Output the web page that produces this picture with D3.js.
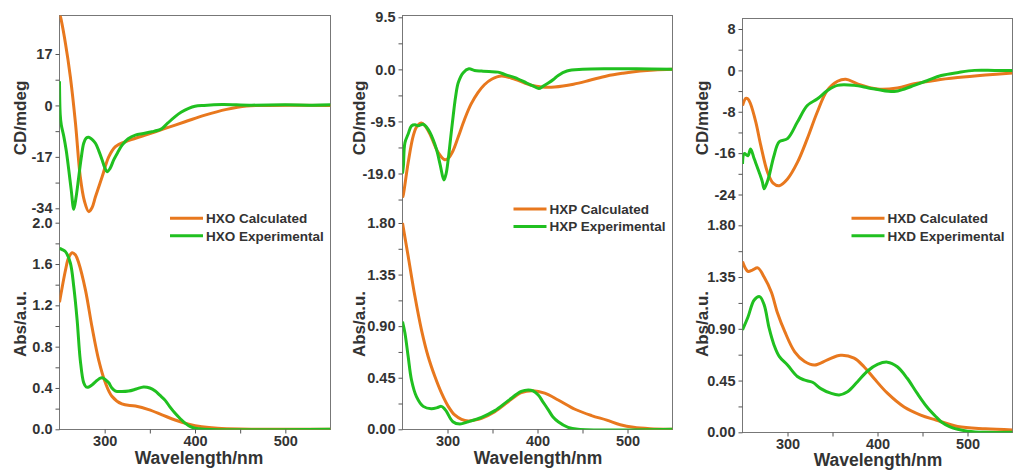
<!DOCTYPE html>
<html>
<head>
<meta charset="utf-8">
<script src="https://cdn.jsdelivr.net/npm/d3@7"></script>
<style>
  body { margin: 0; background: #fff; }
  text { font-family: "Liberation Sans", Arial, sans-serif; font-weight: bold; fill: #333; }
</style>
</head>
<body>
<svg id="chart" width="1015" height="470"></svg>
<script>
/* ---- data: [wavelength (nm), value] ---- */
var WL_DOMAIN = [250, 550];
var WL_TICKS = [300, 400, 500];
var WL_MINOR = [350, 450];

// HXO
var HXO_CD_TICKS = [-34, -17, 0, 17];
var HXO_CD_MINOR = [-25.5, -8.5, 8.5];
var HXO_ABS_TICKS = [0, 0.4, 0.8, 1.2, 1.6, 2.0];
var HXO_ABS_MINOR = [0.2, 0.6, 1.0, 1.4, 1.8];
var HXO_CD_CALC = [[250, 30], [251, 29.3], [256.6, 20.5], [262, 9.5], [267.7, -5.9], [273, -23.6], [277.5, -31.5],
  [282.4, -35.1], [286, -33.8], [289.8, -30.2], [297.2, -23.6], [304.5, -17], [311.9, -13.6], [323, -12],
  [345, -9.8], [367, -7.6], [389, -5.4], [411, -3.2], [435, -1.3], [457, -0.2], [480, 0], [550, 0]];
var HXO_CD_EXP = [[250, 8], [250.8, -3], [252, -6.5], [254.8, -10.3], [257.5, -15], [260.3, -21.4], [263, -28],
  [265.8, -34.3], [268.5, -30], [271.3, -23.6], [274, -17.5], [276.8, -12.5], [279.5, -10.8], [282.4, -10.5],
  [286, -11.2], [289.8, -12.5], [293.5, -15], [297.2, -18], [300, -20.5], [302.7, -21.9], [306, -20.8],
  [310, -18], [314.5, -15.5], [319.3, -13.1], [326, -11], [334, -9.8], [343, -9.3], [352, -8.7], [358, -8.3],
  [363.5, -7.6], [370, -5.8], [378, -3.7], [385, -2.2], [393, -1], [400, -0.3], [410, 0], [430, 0.3],
  [460, 0.1], [500, 0.2], [530, 0.1], [550, 0.2]];
var HXO_ABS_CALC = [[250, 1.23], [256.6, 1.54], [260, 1.66], [264, 1.71], [267.5, 1.69], [271.3, 1.61],
  [278.7, 1.35], [286, 0.99], [293.4, 0.67], [300.8, 0.45], [308, 0.32], [319, 0.245], [334, 0.225],
  [348.7, 0.19], [363.5, 0.14], [378, 0.09], [393, 0.05], [407.5, 0.025], [425, 0.01], [450, 0.003], [550, 0]];
var HXO_ABS_EXP = [[250, 1.75], [253, 1.74], [256.6, 1.72], [262, 1.61], [265.8, 1.38], [269.5, 1.06],
  [273, 0.67], [276.8, 0.45], [279.5, 0.41], [282.4, 0.41], [286, 0.43], [289.8, 0.46], [294, 0.49],
  [297.2, 0.5], [300.8, 0.48], [304.5, 0.45], [308, 0.4], [312, 0.37], [319, 0.365], [326.6, 0.37],
  [335, 0.39], [343, 0.41], [350, 0.4], [356, 0.37], [361, 0.33], [367, 0.28], [372, 0.22], [378, 0.155],
  [384, 0.1], [389, 0.06], [395, 0.025], [400, 0.01], [410, 0], [550, 0]];

// HXP
var HXP_CD_TICKS = [-19, -9.5, 0, 9.5];
var HXP_CD_MINOR = [-23.75, -14.25, -4.75, 4.75];
var HXP_ABS_TICKS = [0, 0.45, 0.9, 1.35, 1.8];
var HXP_ABS_MINOR = [0.225, 0.675, 1.125, 1.575];
var HXP_CD_CALC = [[250, -23.4], [251, -22.8], [256.3, -17], [262, -12.1], [266, -10.4], [271, -9.8],
  [275, -10.3], [280.5, -11.8], [289.7, -15.2], [297, -16.5], [301, -16.2], [306, -14.9], [312, -12.3],
  [319, -9.1], [326, -6.4], [334, -4.2], [341, -2.8], [349, -1.8], [360, -1.2], [375, -1.8], [393, -2.9],
  [405, -3.2], [419, -3.2], [440, -2.7], [458, -2], [477, -1.2], [495, -0.7], [514, -0.3], [530, -0.1], [550, 0]];
var HXP_CD_EXP = [[250, -19], [251, -17.6], [252.7, -13.4], [256.3, -11.8], [260, -10.3], [264, -10.1],
  [267.4, -10.3], [273, -10], [277, -10.6], [280.5, -11.5], [284, -12.8], [287.8, -14.6], [292, -17.5],
  [296, -20.2], [298.5, -19], [300.8, -16.4], [303.5, -12.5], [306.3, -8.5], [309, -5], [312, -2.4],
  [317.5, -0.6], [323.8, 0.1], [330, -0.2], [337.8, -0.3], [346, -0.4], [356, -0.5], [365, -1], [375, -1.5],
  [388, -2.5], [396, -3.1], [401.5, -3.5], [406, -3.1], [412, -2.5], [418, -1.8], [423, -1.1], [432.7, -0.3],
  [450, 0], [480, 0.1], [510, 0.1], [550, 0]];
var HXP_ABS_CALC = [[250, 1.8], [256.3, 1.51], [263.8, 1.16], [271, 0.87], [278.5, 0.635], [286, 0.46],
  [293.4, 0.315], [300.8, 0.2], [308, 0.125], [315.6, 0.087], [323, 0.073], [330, 0.08], [337.8, 0.096],
  [352.6, 0.154], [367.4, 0.24], [382, 0.32], [395, 0.337], [408, 0.315], [423, 0.256], [441.6, 0.175],
  [460, 0.12], [477, 0.08], [492, 0.04], [506.7, 0.017], [525, 0.005], [550, 0]];
var HXP_ABS_EXP = [[250, 0.94], [252.7, 0.84], [256.3, 0.635], [260, 0.43], [265.5, 0.285], [273, 0.2],
  [282, 0.18], [289, 0.19], [293, 0.2], [296, 0.185], [299, 0.154], [306, 0.066], [313.7, 0.046],
  [323, 0.066], [337.8, 0.105], [352.6, 0.163], [367.4, 0.25], [382, 0.33], [389.7, 0.343], [395, 0.335],
  [400.8, 0.3], [406, 0.24], [412, 0.17], [417, 0.11], [423, 0.066], [434, 0.017], [445, 0], [550, 0]];

// HXD
var HXD_CD_TICKS = [-24, -16, -8, 0, 8];
var HXD_CD_MINOR = [-20, -12, -4, 4];
var HXD_ABS_TICKS = [0, 0.45, 0.9, 1.35, 1.8];
var HXD_ABS_MINOR = [0.225, 0.675, 1.125, 1.575];
var HXD_CD_CALC = [[250, -6.8], [253.7, -5.4], [256, -5.5], [259, -6.5], [264.8, -10], [270.3, -14.5],
  [277.8, -19.7], [284, -21.8], [290.8, -22.3], [300, -21], [311, -17.8], [322, -13.2], [333, -8.1],
  [344, -3.9], [355.6, -2.1], [364.8, -1.7], [377.8, -2.6], [400, -3.6], [422, -3.4], [440.8, -2.6],
  [465, -1.9], [489, -1.4], [520, -0.9], [550, -0.5]];
var HXD_CD_EXP = [[250, -18.1], [252, -16.1], [256, -16.5], [259, -15.2], [263, -17.1], [268.5, -19.7],
  [272, -21.5], [274, -22.9], [277, -21.8], [279.7, -20.3], [285, -16.5], [290.8, -13.8], [300, -13.2],
  [311, -10], [322, -6.8], [333.3, -5.5], [344.4, -3.9], [355.6, -2.9], [374, -2.9], [390, -3.4],
  [400, -3.7], [418.5, -4.1], [430, -3.6], [440.8, -2.9], [455, -2], [470.8, -1], [490, -0.4],
  [507.8, 0], [530, 0], [550, 0]];
var HXD_ABS_CALC = [[250, 1.485], [256, 1.4], [261, 1.41], [267, 1.43], [274, 1.35], [282, 1.22],
  [289, 1.035], [297, 0.875], [308, 0.7], [319, 0.615], [330, 0.585], [344.4, 0.63], [359, 0.67],
  [374, 0.645], [385, 0.57], [396, 0.47], [411, 0.34], [429.6, 0.22], [448, 0.15], [465, 0.107],
  [489, 0.05], [520, 0.03], [550, 0.02]];
var HXD_ABS_EXP = [[250, 0.89], [256, 1.0], [263, 1.15], [269, 1.18], [274, 1.11], [279.6, 0.905],
  [285, 0.76], [290.8, 0.66], [300, 0.585], [311, 0.485], [318.5, 0.455], [327.8, 0.435], [337, 0.38],
  [348, 0.34], [357.4, 0.325], [366.7, 0.353], [377.8, 0.44], [389, 0.533], [400, 0.59], [411, 0.61],
  [422, 0.57], [433, 0.47], [444, 0.34], [455, 0.22], [465, 0.135], [471, 0.09], [480, 0.05],
  [489, 0.026], [500, 0.01], [520, 0], [550, 0]];

var COLORS = { calc: '#e8781e', exp: '#20c020' };

(function() {
  var svg = d3.select('#chart');

  function fixed(n) {
    return function(d) { return d.toFixed(n).replace('\u2212', '-'); };
  }

  // layout per panel (pixel frame + two reference ticks per layer)
  var panels = [
    { name: 'HXO', left: 59.5, right: 330.5, top: 15.5, bottom: 429.5, titleX: 199, titleY: 464, yTitleX: 20.5,
      cd: { ref: [-34, 17], px: [208.3, 54], ticks: HXO_CD_TICKS, minor: HXO_CD_MINOR, fmt: fixed(0),
            calc: HXO_CD_CALC, exp: HXO_CD_EXP },
      abs: { ref: [0, 2], px: [429.3, 222.7], ticks: HXO_ABS_TICKS, minor: HXO_ABS_MINOR, fmt: fixed(1),
            calc: HXO_ABS_CALC, exp: HXO_ABS_EXP },
      legend: { x: 170, y: 218.3 } },
    { name: 'HXP', left: 402.5, right: 672.5, top: 15.5, bottom: 429.5, titleX: 538, titleY: 464, yTitleX: 359,
      cd: { ref: [-19, 9.5], px: [173.5, 17.3], ticks: HXP_CD_TICKS, minor: HXP_CD_MINOR, fmt: fixed(1),
            calc: HXP_CD_CALC, exp: HXP_CD_EXP },
      abs: { ref: [0, 1.8], px: [429.3, 223], ticks: HXP_ABS_TICKS, minor: HXP_ABS_MINOR, fmt: fixed(2),
            calc: HXP_ABS_CALC, exp: HXP_ABS_EXP },
      legend: { x: 513.5, y: 209 } },
    { name: 'HXD', left: 742.5, right: 1012.5, top: 18.5, bottom: 432.5, titleX: 878, titleY: 466, yTitleX: 702.5,
      cd: { ref: [-24, 8], px: [194.5, 29], ticks: HXD_CD_TICKS, minor: HXD_CD_MINOR, fmt: fixed(0),
            calc: HXD_CD_CALC, exp: HXD_CD_EXP },
      abs: { ref: [0, 1.8], px: [432.3, 225.3], ticks: HXD_ABS_TICKS, minor: HXD_ABS_MINOR, fmt: fixed(2),
            calc: HXD_ABS_CALC, exp: HXD_ABS_EXP },
      legend: { x: 851.5, y: 218.3 } }
  ];

  function styleAxis(a) {
    a.select('.domain').remove();
    a.selectAll('line').attr('stroke', '#555');
    a.selectAll('text').attr('font-size', 14.5).attr('fill', '#333')
      .style('font-family', '"Liberation Sans", Arial, sans-serif').style('font-weight', 'bold');
  }

  panels.forEach(function(p, i) {
    var g = svg.append('g');
    var x = d3.scaleLinear().domain(WL_DOMAIN).range([p.left, p.right]);

    var clipId = 'clip' + i;
    svg.append('clipPath').attr('id', clipId)
      .append('rect')
      .attr('x', p.left).attr('y', p.top)
      .attr('width', p.right - p.left).attr('height', p.bottom - p.top);

    // frame
    g.append('rect')
      .attr('x', p.left).attr('y', p.top)
      .attr('width', p.right - p.left).attr('height', p.bottom - p.top)
      .attr('fill', 'none').attr('stroke', '#777').attr('stroke-width', 1);

    ['cd', 'abs'].forEach(function(key) {
      var layer = p[key];
      var y = d3.scaleLinear().domain(layer.ref).range(layer.px);

      // major ticks with labels
      g.append('g')
        .attr('transform', 'translate(' + p.left + ',0)')
        .call(d3.axisLeft(y).tickValues(layer.ticks).tickSize(4).tickPadding(3).tickFormat(layer.fmt))
        .call(styleAxis);
      // minor ticks
      g.append('g')
        .attr('transform', 'translate(' + p.left + ',0)')
        .call(d3.axisLeft(y).tickValues(layer.minor).tickSize(4).tickFormat(''))
        .call(styleAxis);

      var line = d3.line()
        .x(function(d) { return x(d[0]); })
        .y(function(d) { return y(d[1]); })
        .curve(d3.curveCatmullRom.alpha(0.5));

      var lines = g.append('g').attr('clip-path', 'url(#' + clipId + ')');
      lines.append('path').datum(layer.calc)
        .attr('d', line).attr('fill', 'none')
        .attr('stroke', COLORS.calc).attr('stroke-width', 3).attr('stroke-linejoin', 'round');
      lines.append('path').datum(layer.exp)
        .attr('d', line).attr('fill', 'none')
        .attr('stroke', COLORS.exp).attr('stroke-width', 3).attr('stroke-linejoin', 'round');
    });

    // x axis
    g.append('g')
      .attr('transform', 'translate(0,' + p.bottom + ')')
      .call(d3.axisBottom(x).tickValues(WL_TICKS).tickSize(4).tickPadding(2).tickFormat(d3.format('d')))
      .call(styleAxis);
    g.append('g')
      .attr('transform', 'translate(0,' + p.bottom + ')')
      .call(d3.axisBottom(x).tickValues(WL_MINOR).tickSize(4).tickFormat(''))
      .call(styleAxis);

    // axis titles
    g.append('text')
      .attr('x', p.titleX).attr('y', p.titleY)
      .attr('text-anchor', 'middle').attr('font-size', 17.5)
      .text('Wavelength/nm');
    g.append('text')
      .attr('transform', 'translate(' + p.yTitleX + ',' + 118 + ') rotate(-90)')
      .attr('text-anchor', 'middle').attr('dy', '0.35em').attr('font-size', 17)
      .text('CD/mdeg');
    g.append('text')
      .attr('transform', 'translate(' + p.yTitleX + ',' + 324 + ') rotate(-90)')
      .attr('text-anchor', 'middle').attr('dy', '0.35em').attr('font-size', 17)
      .text('Abs/a.u.');

    // legend
    var items = [
      { label: p.name + ' Calculated', color: COLORS.calc },
      { label: p.name + ' Experimental', color: COLORS.exp }
    ];
    var lg = g.append('g').attr('transform', 'translate(' + p.legend.x + ',' + p.legend.y + ')');
    items.forEach(function(it, k) {
      var row = lg.append('g').attr('transform', 'translate(0,' + (k * 17.5) + ')');
      row.append('line').attr('x1', 0).attr('x2', 33).attr('y1', 0).attr('y2', 0)
        .attr('stroke', it.color).attr('stroke-width', 3);
      row.append('text').attr('x', 36).attr('y', 0).attr('dy', '0.35em')
        .attr('font-size', 13.5).text(it.label);
    });
  });
})();
</script>
</body>
</html>
